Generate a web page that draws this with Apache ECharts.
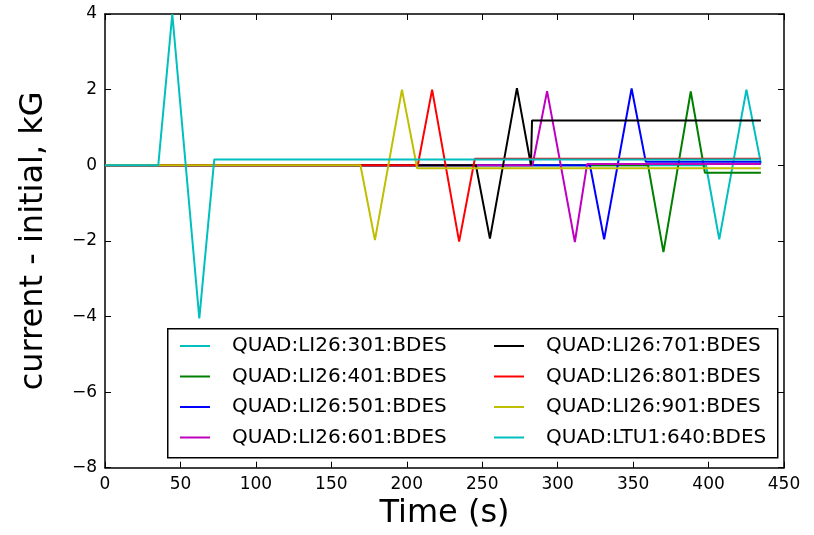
<!DOCTYPE html>
<html>
<head>
<meta charset="utf-8">
<script src="https://cdn.jsdelivr.net/npm/echarts@6/dist/echarts.min.js"></script>
<style>
html,body{margin:0;padding:0;background:#fff;}
#chart{width:814px;height:535px;}
</style>
</head>
<body>
<div id="chart"></div>
<script>
// ---- data (time in s, value in kG) ----
const names = ["QUAD:LI26:301:BDES","QUAD:LI26:401:BDES","QUAD:LI26:501:BDES","QUAD:LI26:601:BDES",
               "QUAD:LI26:701:BDES","QUAD:LI26:801:BDES","QUAD:LI26:901:BDES","QUAD:LTU1:640:BDES"];
const colors = ["#00BFBF","#008000","#0000FF","#BF00BF","#000000","#FF0000","#BFBF00","#00BFBF"];

const t301 = [0, 398.3, 407.1, 425.1, 434.7];
const v301 = [0, 0, -1.96, 2.0, 0.05];
const t401 = [0, 359.9, 370.1, 388.2, 397.6, 434.7];
const v401 = [0, 0, -2.3, 1.95, -0.2, -0.2];
const t501 = [0, 321.4, 330.8, 349.0, 358.4, 434.7];
const v501 = [0, 0, -1.96, 2.03, 0.09, 0.09];
const t601 = [0, 283.3, 293.0, 311.4, 319.5, 434.7];
const v601 = [0, 0, 1.96, -2.03, 0.03, 0.03];
const t701 = [0, 245.8, 255.1, 273.0, 282.3, 283.0, 434.7];
const v701 = [0, 0, -1.94, 2.04, 0, 1.18, 1.18];
const t801 = [0, 207.3, 216.8, 234.7, 245.1, 434.7];
const v801 = [0, 0, 2.0, -2.02, 0.17, 0.17];
const t901 = [0, 169.3, 178.9, 196.8, 206.9, 434.7];
const v901 = [0, 0, -1.98, 2.0, -0.08, -0.08];
const t640 = [0, 35.3, 44.6, 62.5, 72.4, 434.7];
const v640 = [0, 0, 4.0, -4.05, 0.15, 0.15];

const xTicks = [0, 50, 100, 150, 200, 250, 300, 350, 400, 450];
const yTicks = [-8, -6, -4, -2, 0, 2, 4];

const times = [t301, t401, t501, t601, t701, t801, t901, t640];
const vals  = [v301, v401, v501, v601, v701, v801, v901, v640];

const font = "DejaVu Sans";
const chart = echarts.init(document.getElementById('chart'), null, {renderer:'canvas'});

const series = names.map((n, i) => ({
  name: n,
  type: 'line',
  data: times[i].map((t, k) => [t, vals[i][k]]),
  showSymbol: false,
  symbol: 'none',
  color: colors[i],
  lineStyle: {width: 2, color: colors[i]},
  animation: false,
  z: 2 + i * 0.01
}));

const axisLine = {show: true, onZero: false, lineStyle: {color: '#000', width: 1.5}};
const tickIn = {show: true, inside: true, length: 6, lineStyle: {color: '#000', width: 1}};
const fmt = v => String(v).replace('-', '\u2212');

const legendCommon = {
  orient: 'vertical',
  icon: 'rect',
  itemWidth: 30,
  itemHeight: 2,
  itemGap: 10.5,
  padding: 0,
  textStyle: {fontFamily: font, fontSize: 20, color: '#000', lineHeight: 20, padding: [0, 0, 0, 17]}
};

chart.setOption({
  animation: false,
  backgroundColor: '#fff',
  grid: {left: 105, right: 30, top: 14, bottom: 67.3, containLabel: false},
  xAxis: [{
    type: 'value', min: 0, max: 450, interval: 50, position: 'bottom',
    name: 'Time (s)', nameLocation: 'middle', nameGap: 30,
    nameTextStyle: {fontFamily: font, fontSize: 32, color: '#000'},
    axisLine: axisLine, axisTick: tickIn, splitLine: {show: false},
    axisLabel: {fontFamily: font, fontSize: 17, color: '#000', margin: 8, formatter: fmt}
  }, {
    type: 'value', min: 0, max: 450, interval: 50, position: 'top',
    axisLine: axisLine, axisTick: tickIn, splitLine: {show: false}, axisLabel: {show: false}
  }],
  yAxis: [{
    type: 'value', min: -8, max: 4, interval: 2, position: 'left',
    name: 'current - initial, kG', nameLocation: 'middle', nameGap: 55, nameRotate: 90,
    nameTextStyle: {fontFamily: font, fontSize: 32, color: '#000'},
    axisLine: axisLine, axisTick: tickIn, splitLine: {show: false},
    axisLabel: {fontFamily: font, fontSize: 17, color: '#000', margin: 8, formatter: fmt}
  }, {
    type: 'value', min: -8, max: 4, interval: 2, position: 'right',
    axisLine: axisLine, axisTick: tickIn, splitLine: {show: false}, axisLabel: {show: false}
  }],
  legend: [
    Object.assign({left: 180, top: 336, data: names.slice(0, 4)}, legendCommon),
    Object.assign({left: 494, top: 336, data: names.slice(4, 8)}, legendCommon)
  ],
  graphic: [{
    type: 'rect', left: 167, top: 328, z: 3,
    shape: {width: 610, height: 129},
    style: {fill: '#fff', stroke: '#000', lineWidth: 1.5}
  }],
  series: series
});
</script>
</body>
</html>
